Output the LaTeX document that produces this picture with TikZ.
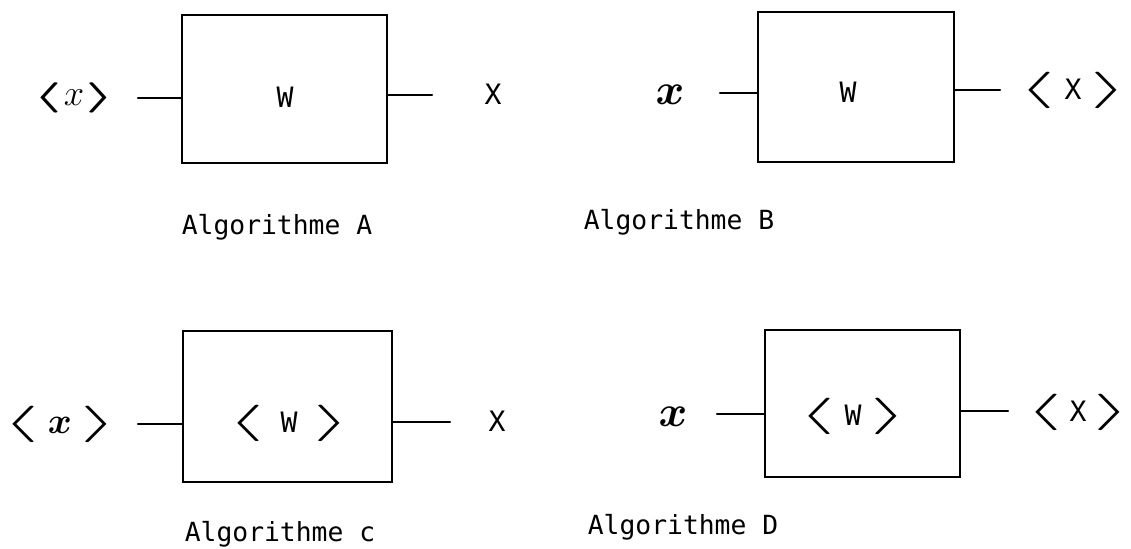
\documentclass[tikz,border=0pt]{standalone}
\usepackage{fontspec}
\usepackage{bm}
\usepackage{graphicx}
\setmonofont{DejaVu Sans Mono}
\usetikzlibrary{positioning}
\newcommand\chevl{\scalebox{2.6}[1]{\fontsize{20}{20}\selectfont$\langle$}}
\newcommand\chevr{\scalebox{2.6}[1]{\fontsize{20}{20}\selectfont$\rangle$}}
\newcommand\chevbl{\scalebox{2.2}[1]{\fontsize{19}{19}\selectfont$\bm{\langle}$}}
\newcommand\chevbr{\scalebox{2.2}[1]{\fontsize{19}{19}\selectfont$\bm{\rangle}$}}

\begin{document}
\begin{tikzpicture}[x=0.02cm, y=-0.02cm,
          blk/.style={draw, line width=1.6pt, inner sep=0pt},
          lbl/.style={inner sep=0pt, font=\ttfamily\fontsize{16}{16}\selectfont},
          capt/.style={inner sep=0pt, font=\ttfamily\fontsize{15}{15}\selectfont},
          wire/.style={line width=1.2pt, line cap=round}]
        \useasboundingbox (0,0) rectangle (1131,548);
        % the four boxes
        \node[blk, minimum width=4.10cm, minimum height=2.96cm] (boxA) at (284.5,89) {};
        \node[blk, minimum width=3.92cm, minimum height=3.00cm] (boxB) at (856,87) {};
        \node[blk, minimum width=4.18cm, minimum height=3.02cm] (boxC) at (287.5,406.5) {};
        \node[blk, minimum width=3.90cm, minimum height=2.94cm] (boxD) at (862.5,403.5) {};
        \node[lbl] (wA) at (285,97) {W};
        \node[lbl] (wB) at (848,92) {W};
        \node[lbl] (wC) at (289,423) {\chevl\hspace{9pt}W\hspace{9pt}\chevr};
        \node[lbl] (wD) at (853,416) {\chevl\hspace{5pt}W\hspace{5pt}\chevr};
        % inputs and outputs
        \node[lbl] (xA) at (74,98) {\chevbl\hspace{1pt}{\fontsize{20}{20}\selectfont$x$}\hspace{1pt}\chevbr};
        \node[lbl] (yA) at (493,94) {X};
        \node[lbl] (xB) at (670,95) {\fontsize{24}{24}\selectfont$\bm{x}$};
        \node[lbl] (yB) at (1073,90) {\chevl\hspace{5pt}X\hspace{5pt}\chevr};
        \node[lbl] (xC) at (60,424) {\chevl\hspace{5pt}{\fontsize{21}{21}\selectfont$\bm{x}$}\hspace{5pt}\chevr};
        \node[lbl] (yC) at (497,421) {X};
        \node[lbl] (xD) at (673,417) {\fontsize{24}{24}\selectfont$\bm{x}$};
        \node[lbl] (yD) at (1078,412) {\chevl\hspace{4pt}X\hspace{4pt}\chevr};
        \foreach \b/\xi/\yi/\xo/\yo in {A/138/98/432/95, B/720/93/1000/90, C/138/424/450/422, D/717/414/1008/411} {
          \coordinate (in\b) at (\xi,\yi); \coordinate (out\b) at (\xo,\yo);
          \draw[wire] (in\b) -- (in\b -| box\b.west); \draw[wire] (box\b.east |- out\b) -- (out\b);}
        % captions
        \node[capt] (capA) at (277,227) {Algorithme A};
        \node[capt] (capB) at (679,222) {Algorithme B};
        \node[capt] (capC) at (280,534) {Algorithme c};
        \node[capt] (capD) at (683,527) {Algorithme D};
      \end{tikzpicture}
\end{document}
